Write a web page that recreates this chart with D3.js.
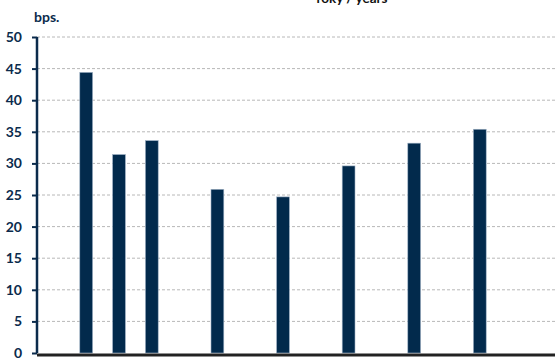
<!DOCTYPE html>
<html>
  <head>
    <style>
      body { margin: 0; background: #fff; }
      svg text { font-family: "Lato", "Open Sans", sans-serif; font-weight: bold; }
    </style>
  </head>
  <body>
    <div id="chart"></div>
    <script src="https://d3js.org/d3.v7.min.js"></script>
    <script>
      // data (x labels are cropped out of the reference)
      var years = ["2007","2008","2009","2010","2011","2012","2013","2014",
                   "2015","2016","2017","2018","2019","2020","2021","2022"];
      var values = [null, 44.4, 31.4, 33.6, null, 25.9, null, 24.7,
                    null, 29.6, null, 33.2, null, 35.4, null, null];
      var yTicks = [0, 5, 10, 15, 20, 25, 30, 35, 40, 45, 50];

      var width = 555, height = 358;
      var plotLeft = 37, plotBottom = 353, plotTop = 37;

      var svg = d3.select("#chart").append("svg")
        .attr("width", width)
        .attr("height", height)
        .style("display", "block");

      var x = d3.scaleBand()
        .domain(years)
        .range([plotLeft, plotLeft + years.length * 32.8])
        .paddingInner(0.61)
        .paddingOuter(0.305);

      var y = d3.scaleLinear()
        .domain([0, 50])
        .range([plotBottom, plotTop]);

      // gridlines
      svg.append("g")
        .selectAll("line")
        .data(yTicks.filter(function (d) { return d > 0; }))
        .enter().append("line")
          .attr("x1", plotLeft)
          .attr("x2", width)
          .attr("y1", function (d) { return y(d); })
          .attr("y2", function (d) { return y(d); })
          .style("stroke", "#b8b8b8")
          .style("stroke-width", 1)
          .style("stroke-dasharray", "3,2");

      // bars
      var data = years.map(function (d, i) { return {year: d, value: values[i]}; })
        .filter(function (d) { return d.value != null; });

      svg.append("g")
        .selectAll("rect")
        .data(data)
        .enter().append("rect")
          .attr("x", function (d) { return x(d.year); })
          .attr("y", function (d) { return y(d.value); })
          .attr("width", x.bandwidth())
          .attr("height", function (d) { return y(0) - y(d.value); })
          .style("fill", "#022a4c")
          .style("stroke", "#9db0c4")
          .style("stroke-width", 0.6);

      // y axis
      var yAxis = svg.append("g")
        .attr("transform", "translate(" + plotLeft + ",0)")
        .call(d3.axisLeft(y).tickValues(yTicks).tickSize(5).tickPadding(10));
      yAxis.select(".domain")
        .attr("d", "M0," + y(50) + "V" + y(0))
        .style("stroke", "#0b2b4c")
        .style("stroke-width", 2.5);
      yAxis.selectAll(".tick line")
        .style("stroke", "#0b2b4c")
        .style("stroke-width", 2);
      yAxis.selectAll(".tick text")
        .style("fill", "#0b2b4c")
        .style("font-size", "14px");

      // x axis line
      svg.append("line")
        .attr("x1", plotLeft)
        .attr("x2", width)
        .attr("y1", y(0) + 2)
        .attr("y2", y(0) + 2)
        .style("stroke", "#222")
        .style("stroke-width", 3);

      // unit label and title (title is cut off at the top)
      svg.append("text")
        .attr("x", 34)
        .attr("y", 22)
        .style("fill", "#0b2b4c")
        .style("font-size", "14px")
        .text("bps.");

      svg.append("text")
        .attr("x", 352)
        .attr("y", 3)
        .style("text-anchor", "middle")
        .style("fill", "#111")
        .style("font-size", "13.5px")
        .text("roky / years");
    </script>
  </body>
</html>
